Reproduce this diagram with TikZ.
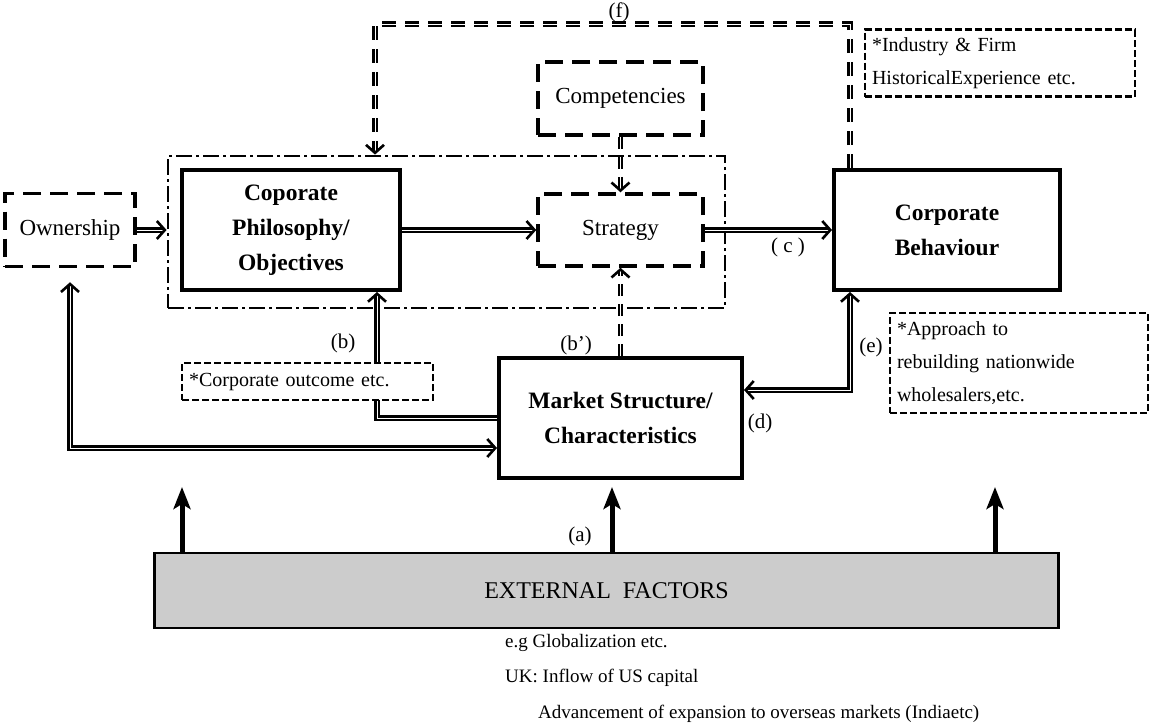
\documentclass[tikz,border=0pt]{standalone}
\usepackage{fontspec}
\setmainfont{Liberation Serif}
\usetikzlibrary{arrows.meta,calc}

\begin{document}
\begin{tikzpicture}[x=1pt,y=-1pt,
  mainbox/.style={draw, line width=4pt, inner sep=0pt, align=center,
    font=\fontsize{23.5}{35}\selectfont\bfseries},
  dashbox/.style={draw, line width=3.5pt, dash pattern=on 18pt off 9pt,
    inner sep=0pt, align=center, font=\fontsize{23}{26}\selectfont},
  notebox/.style={draw, fill=white, line width=2.4pt, dash pattern=on 7pt off 3pt,
    inner xsep=7pt, inner ysep=0pt, align=left,
    font=\fontsize{20}{33}\selectfont},
  groupbox/.style={draw, line width=2.8pt, dash pattern=on 16pt off 4pt on 3pt off 4pt},
  tip/.tip={Straight Barb[length=8pt,width=18pt,line width=2.6pt]},
  conn/.style={line width=2.2pt, double=white, double distance=0.8pt, -tip},
  dashconn/.style={conn, dash pattern=on 12pt off 8pt},
  bigarrow/.style={line width=5pt, -{Stealth[length=22pt,width=17pt,inset=5pt]}},
  lbl/.style={font=\fontsize{21}{24}\selectfont, inner sep=0pt},
  foot/.style={anchor=west, inner sep=0pt, font=\fontsize{19}{22}\selectfont}
]
\useasboundingbox (0,0) rectangle (1151,724);

% dash-dot frame around philosophy and strategy
\node[groupbox, minimum width=557pt, minimum height=152pt] (grp) at (446.5,232) {};

% main boxes
\node[dashbox, minimum width=130pt, minimum height=73pt] (own) at (70,230) {Ownership};
\node[mainbox, minimum width=218pt, minimum height=120pt] (phil) at (291,230)
  {Coporate\\Philosophy/\\Objectives};
\node[dashbox, minimum width=165pt, minimum height=73pt] (comp) at (620.5,98.5) {Competencies};
\node[dashbox, minimum width=165pt, minimum height=72pt] (strat) at (620.5,230) {Strategy};
\node[mainbox, minimum width=226pt, minimum height=120pt] (cb) at (947,230)
  {Corporate\\Behaviour};
\node[mainbox, minimum width=243pt, minimum height=120pt] (ms) at (620.5,418)
  {Market Structure/\\Characteristics};

% connectors inside the frame
\draw[conn] (own.east) -- (own.east -| grp.west);
\draw[conn] (phil.east) -- (strat.west);
\draw[dashconn] (comp.south) -- (strat.north);
\draw[conn] (strat.east) -- (cb.west);
\draw[dashconn] (ms.north) -- (strat.south);

% feedback from market structure to philosophy (b)
\coordinate (bx) at (377,418);
\draw[conn] (ms.west |- bx) -| (phil.south -| bx);

% ownership <-> market structure
\coordinate (lc) at (70,448);
\draw[conn, tip-tip, shorten <=14pt] (own.south) |- (ms.west |- lc);

% behaviour <-> market structure (d)/(e)
\coordinate (ec) at (850,390);
\draw[conn, tip-tip] (cb.south -| ec) |- (ms.east |- ec);

% feedback loop from behaviour to the frame (f)
\coordinate (fr) at (850,24);
\coordinate (fl) at (375,24);
\draw[dashconn, dash pattern=on 14pt off 9pt] (cb.north -| fr) -- (fr) -- (fl) -- (grp.north -| fl);

% annotation boxes
\node[notebox, text width=256pt, minimum height=67pt] (ind) at (1000,63)
  {*Industry \& Firm\\HistoricalExperience etc.};
\node[notebox, text width=244pt, minimum height=100pt] (appr) at (1019,363)
  {*Approach to\\rebuilding nationwide\\wholesalers,etc.};
\node[notebox, text width=237pt, minimum height=37pt] (outc) at (307.5,381.5)
  {*Corporate outcome etc.};

% external factors bar
\node[draw, line width=1.2pt, fill=black!20, minimum width=903pt, minimum height=75pt,
  inner sep=0pt, font=\fontsize{24}{28}\selectfont] (ext) at (606.5,590.5)
  {EXTERNAL\ \ FACTORS};
\draw[line width=3pt] (ext.north west) -- (ext.south west);
\draw[line width=3pt] (ext.north east) -- (ext.south east);

% external factors pushing upward
\coordinate (a1) at (182,487);
\coordinate (a2) at (612,487);
\coordinate (a3) at (995,487);
\draw[bigarrow] (ext.north -| a1) -- (a1);
\draw[bigarrow] (ext.north -| a2) -- (a2);
\draw[bigarrow] (ext.north -| a3) -- (a3);

% connector labels
\node[lbl] (la) at (580,536) {(a)};
\node[lbl] (lb) at (343,343) {(b)};
\node[lbl] (lbp) at (576,345) {(b')};
\node[lbl] (lcc) at (788,247) {( c )};
\node[lbl] (ld) at (760,423) {(d)};
\node[lbl] (le) at (871,347) {(e)};
\node[lbl] (lf) at (619,12) {(f)};

% examples below the bar
\node[foot] (n1) at (505,643) {e.g Globalization etc.};
\node[foot] (n2) at (505,678) {UK: Inflow of US capital};
\node[foot] (n3) at (538,714) {Advancement of expansion to overseas markets (Indiaetc)};
\end{tikzpicture}
\end{document}
